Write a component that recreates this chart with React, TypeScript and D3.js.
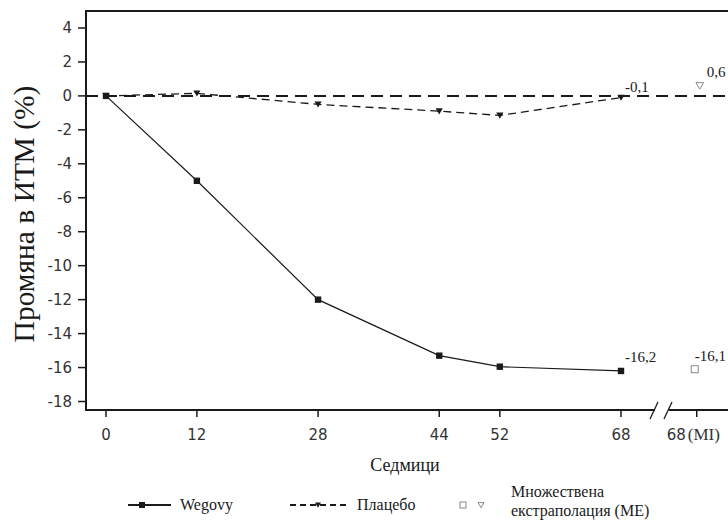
import React from "react";
import * as d3 from "d3";

const weeks = [0, 12, 28, 44, 52, 68];
const wegovy = [0, -5.0, -12.0, -15.3, -15.95, -16.2];
const placebo = [0, 0.15, -0.5, -0.9, -1.15, -0.1];
const miPos = 78; // position of the "68 (MI)" category on the week axis
const miWegovy = -16.1;
const miPlacebo = 0.6;
const yTicks = [4, 2, 0, -2, -4, -6, -8, -10, -12, -14, -16, -18];
const xTickLabels = ["0", "12", "28", "44", "52", "68"];

const W = 728;
const H = 525;
const serif = "Liberation Serif, Times New Roman, serif";
const sans = "DejaVu Sans, Open Sans, sans-serif";

export default function App() {
  const x = d3.scaleLinear().domain([0, 68]).range([106, 621]);
  const y = d3.scaleLinear().domain([5, -18.5]).range([11, 410]);
  const left = 86;
  const bottom = y(-18.5);
  const top = y(5);

  const line = d3
    .line<[number, number]>()
    .x((d) => x(d[0]))
    .y((d) => y(d[1]));

  const wegData: [number, number][] = weeks.map((w, i) => [w, wegovy[i]]);
  const plaData: [number, number][] = weeks.map((w, i) => [w, placebo[i]]);

  const tri = (cx: number, cy: number, s: number) =>
    `M${cx - s},${cy - s * 0.8}L${cx + s},${cy - s * 0.8}L${cx},${cy + s * 0.9}Z`;

  const ink = "#1a1a1a";
  const breakX = 661;
  const sf = (size: number) => ({ fontFamily: serif, fontSize: size });
  const ss = (size: number) => ({ fontFamily: sans, fontSize: size });

  return (
    <svg width={W} height={H} style={{ position: "absolute", left: 0, top: 0, background: "#fff" }}>
      <rect x={0} y={0} width={W} height={H} fill="#fff" />
      {/* frame */}
      <line x1={left} x2={W} y1={top} y2={top} stroke={ink} strokeWidth={2} />
      <line x1={left} x2={left} y1={top - 1} y2={bottom + 1} stroke={ink} strokeWidth={2} />
      <line x1={left - 1} x2={W} y1={bottom} y2={bottom} stroke={ink} strokeWidth={2} />

      {/* y ticks */}
      {yTicks.map((t) => (
        <g key={t}>
          <line x1={left - 8} x2={left} y1={y(t)} y2={y(t)} stroke={ink} strokeWidth={1.5} />
          <text x={left - 14} y={y(t)} dy="0.36em" textAnchor="end" style={ss(15)} fill="#333">
            {t}
          </text>
        </g>
      ))}

      {/* x ticks */}
      {weeks.map((w, i) => (
        <g key={w}>
          <line x1={x(w)} x2={x(w)} y1={bottom} y2={bottom + 7} stroke={ink} strokeWidth={1.5} />
          <text x={x(w)} y={bottom + 30} textAnchor="middle" style={ss(15)} fill="#333">
            {xTickLabels[i]}
          </text>
        </g>
      ))}
      <line x1={x(miPos)} x2={x(miPos)} y1={bottom} y2={bottom + 7} stroke={ink} strokeWidth={1.5} />
      <text x={x(miPos) - 11} y={bottom + 30} textAnchor="end" style={ss(15)} fill="#333">
        68
      </text>
      <text x={x(miPos) - 9} y={bottom + 30} textAnchor="start" style={sf(17)} fill="#333">
        (MI)
      </text>

      {/* axis break */}
      <rect x={breakX - 6} y={bottom - 2} width={14} height={4} fill="#fff" />
      <line x1={breakX - 11} x2={breakX - 3} y1={bottom + 9} y2={bottom - 8} stroke={ink} strokeWidth={1.3} />
      <line x1={breakX + 3} x2={breakX + 11} y1={bottom + 9} y2={bottom - 8} stroke={ink} strokeWidth={1.3} />

      {/* zero reference line */}
      <line x1={left} x2={W} y1={y(0)} y2={y(0)} stroke={ink} strokeWidth={2} strokeDasharray="12,7" />

      {/* placebo */}
      <path d={line(plaData) || ""} fill="none" stroke={ink} strokeWidth={1.3} strokeDasharray="8,5" />
      {plaData.map((d, i) => (
        <path key={i} d={tri(x(d[0]), y(d[1]), 3.6)} fill={ink} />
      ))}

      {/* wegovy */}
      <path d={line(wegData) || ""} fill="none" stroke={ink} strokeWidth={1.2} />
      {wegData.map((d, i) => (
        <rect key={i} x={x(d[0]) - 3.2} y={y(d[1]) - 3.2} width={6.4} height={6.4} fill={ink} />
      ))}

      {/* MI markers */}
      <rect
        x={x(miPos) - 5.5}
        y={y(miWegovy) - 3.5}
        width={7}
        height={7}
        fill="#fff"
        stroke="#888"
        strokeWidth={1}
      />
      <path d={tri(x(miPos) + 3, y(miPlacebo), 3.8)} fill="#fff" stroke="#888" strokeWidth={1} />

      {/* value labels */}
      <text x={x(68) + 4} y={y(-0.1) - 6} style={sf(15)} fill={ink}>
        -0,1
      </text>
      <text x={x(miPos) + 10} y={y(miPlacebo) - 9} style={sf(15)} fill={ink}>
        0,6
      </text>
      <text x={x(68) + 4} y={y(-16.2) - 9} style={sf(15)} fill={ink}>
        -16,2
      </text>
      <text x={x(miPos) - 2} y={y(miWegovy) - 8} style={sf(15)} fill={ink}>
        -16,1
      </text>

      {/* axis titles */}
      <text transform={`translate(34,214) rotate(-90)`} textAnchor="middle" style={sf(29.5)} fill={ink}>
        Промяна в ИТМ (%)
      </text>
      <text x={405} y={471} textAnchor="middle" style={sf(18)} fill={ink}>
        Седмици
      </text>

      {/* legend */}
      <g>
        <line x1={128} x2={171} y1={505} y2={505} stroke={ink} strokeWidth={1.8} />
        <rect x={139} y={502} width={6} height={6} fill={ink} />
        <text x={180} y={510} style={sf(16)} fill={ink}>
          Wegovy
        </text>
        <line x1={290} x2={347} y1={505} y2={505} stroke={ink} strokeWidth={1.8} strokeDasharray="6,4" />
        <path d={tri(318, 505, 3)} fill={ink} />
        <text x={357} y={510} style={sf(16)} fill={ink}>
          Плацебо
        </text>
        <rect x={460} y={502} width={6} height={6} fill="#fff" stroke="#888" strokeWidth={1} />
        <path d={tri(481, 505, 3)} fill="#fff" stroke="#888" strokeWidth={1} />
        <text x={511} y={497} style={sf(16)} fill={ink}>
          Множествена
        </text>
        <text x={511} y={516} style={sf(16)} fill={ink}>
          екстраполация (МЕ)
        </text>
      </g>
    </svg>
  );
}
